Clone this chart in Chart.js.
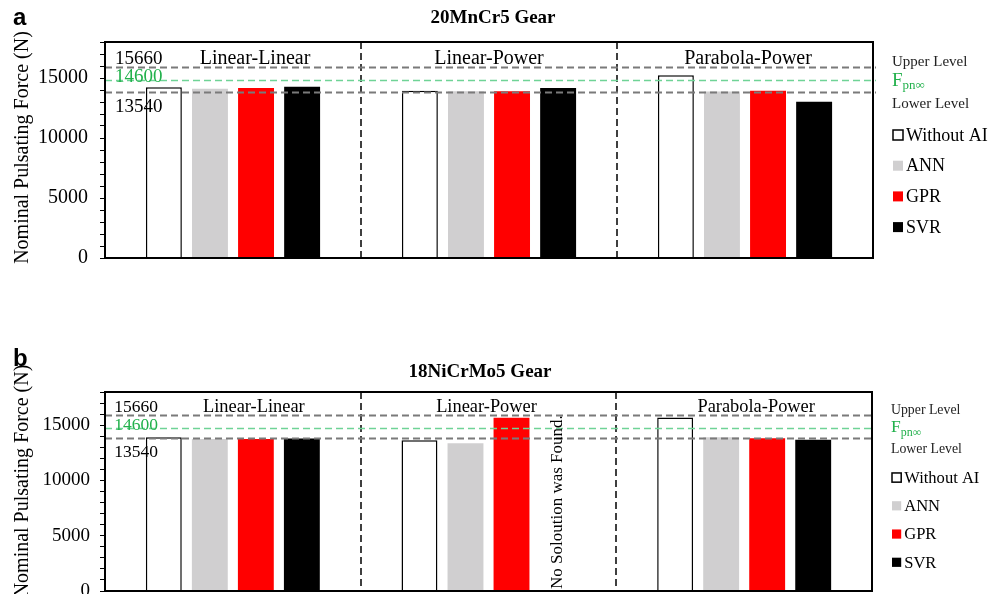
<!DOCTYPE html>
<html>
<head>
<meta charset="utf-8">
<script src="https://cdn.jsdelivr.net/npm/chart.js@4.4.0/dist/chart.umd.min.js"></script>
<style>
  html, body { margin: 0; padding: 0; background: #fff; }
  #wrap { position: relative; width: 997px; height: 594px; overflow: hidden; }
  .panel { position: absolute; left: 0; width: 997px; }
</style>
</head>
<body>
<div id="wrap">
  <div class="panel" style="top:0;height:300px"><canvas id="gearA"></canvas></div>
  <div class="panel" style="top:300px;height:294px"><canvas id="gearB"></canvas></div>
</div>
<script>
// categories and series
const methods = ['Linear-Linear', 'Linear-Power', 'Parabola-Power'];
const seriesNames = ['Without AI', 'ANN', 'GPR', 'SVR'];
const seriesColors = ['#ffffff', '#d0cfd0', '#ff0000', '#000000'];

// y axis
const yMax = 18000;
const yStep = 1000;
const yLabelStep = 5000;

// reference levels (label text, and where the dashed line sits in the figure)
const levelLabels = ['15660', '14600', '13540'];
const levelNames = ['Upper Level', 'F', 'Lower Level'];

// (a) 20MnCr5 Gear
const withoutAI_20MnCr5 = [14220, 13940, 15220];
const ann_20MnCr5 = [14100, 13890, 13880];
const gpr_20MnCr5 = [14160, 13890, 13940];
const svr_20MnCr5 = [14270, 14160, 13020];
const levels_20MnCr5 = [15950, 14800, 13800];

// (b) 18NiCrMo5 Gear
const withoutAI_18NiCrMo5 = [13910, 13640, 15700];
const ann_18NiCrMo5 = [13760, 13370, 13910];
const gpr_18NiCrMo5 = [13760, 15670, 13820];
const svr_18NiCrMo5 = [13790, null, 13670];
const levels_18NiCrMo5 = [15910, 14730, 13820];

const SERIF = '"Liberation Serif", "Times New Roman", serif';
const SANS = '"Liberation Sans", Arial, sans-serif';

function panelPlugin(p) {
  return {
    id: 'panelDeco',
    afterDatasetsDraw(chart) {
      const { ctx, chartArea: a, scales: { x, y } } = chart;
      const k = p.k;
      ctx.save();

      // dashed dividers between the methods
      ctx.strokeStyle = '#000';
      ctx.lineWidth = 1.5;
      ctx.setLineDash([7, 4]);
      for (let i = 0; i < methods.length - 1; i++) {
        const xb = Math.round((x.getPixelForValue(i) + x.getPixelForValue(i + 1)) / 2);
        ctx.beginPath();
        ctx.moveTo(xb, a.top);
        ctx.lineTo(xb, a.bottom);
        ctx.stroke();
      }

      // level lines
      p.levels.forEach((v, i) => {
        const yy = Math.round(y.getPixelForValue(v)) + 0.5;
        ctx.strokeStyle = i === 1 ? '#6fd396' : '#7a7a7a';
        ctx.lineWidth = i === 1 ? 1.5 : 2;
        ctx.setLineDash([7, 4]);
        ctx.beginPath();
        ctx.moveTo(a.left, yy);
        ctx.lineTo(a.right + 3, yy);
        ctx.stroke();
      });
      ctx.setLineDash([]);

      // frame
      ctx.strokeStyle = '#000';
      ctx.lineWidth = 2;
      ctx.strokeRect(a.left, a.top, a.right - a.left, a.bottom - a.top);

      // level values inside the plot
      const yU = y.getPixelForValue(p.levels[0]);
      const yG = y.getPixelForValue(p.levels[1]);
      const yL = y.getPixelForValue(p.levels[2]);
      ctx.textAlign = 'left';
      ctx.textBaseline = 'alphabetic';
      ctx.font = (19 * k) + 'px ' + SERIF;
      ctx.fillStyle = '#000';
      ctx.fillText(levelLabels[0], a.left + 10 * k, yU - 3);
      ctx.fillStyle = '#22b14c';
      ctx.fillText(levelLabels[1], a.left + 10 * k, yG + 2);
      ctx.fillStyle = '#000';
      ctx.fillText(levelLabels[2], a.left + 10 * k, yL + 20 * k);

      // method names
      ctx.textAlign = 'center';
      ctx.font = (20 * k) + 'px ' + SERIF;
      methods.forEach((m, i) => {
        ctx.fillText(m, x.getPixelForValue(i) + p.nameShift[i], yU - 3);
      });

      // no solution note
      if (p.note) {
        const m1 = chart.getDatasetMeta(1).data[p.note.index];
        const m2 = chart.getDatasetMeta(2).data[p.note.index];
        const xn = m2.x + (m2.x - m1.x);
        ctx.save();
        ctx.translate(xn, a.bottom - 2);
        ctx.rotate(-Math.PI / 2);
        ctx.textAlign = 'left';
        ctx.textBaseline = 'middle';
        ctx.font = '17px ' + SERIF;
        ctx.fillText(p.note.text, 0, 0);
        ctx.restore();
      }

      // y axis title
      ctx.save();
      ctx.translate(22.5, p.axisTitleY);
      ctx.rotate(-Math.PI / 2);
      ctx.textAlign = 'center';
      ctx.textBaseline = 'middle';
      ctx.font = '20px ' + SERIF;
      ctx.fillStyle = '#000';
      ctx.fillText('Nominal Pulsating Force (N)', 0, 0);
      ctx.restore();

      // panel title and letter
      ctx.textAlign = 'center';
      ctx.textBaseline = 'middle';
      ctx.font = 'bold ' + p.titleSize + 'px ' + SERIF;
      ctx.fillText(p.title, p.titleX, p.titleY);
      ctx.textAlign = 'left';
      ctx.textBaseline = 'alphabetic';
      ctx.font = 'bold 24px ' + SANS;
      ctx.fillText(p.letter, 13, p.letterY);

      // legend on the right
      const lx = a.right + 19;
      ctx.textBaseline = 'middle';
      ctx.font = (15 * k) + 'px ' + SERIF;
      ctx.fillStyle = '#222';
      ctx.fillText(levelNames[0], lx, a.top + 20 * k);
      ctx.fillText(levelNames[2], lx, a.top + 62 * k);
      ctx.fillStyle = '#22b14c';
      ctx.font = (19 * k) + 'px ' + SERIF;
      ctx.fillText(levelNames[1], lx, a.top + 39 * k);
      const fw = ctx.measureText(levelNames[1]).width;
      ctx.font = (13 * k) + 'px ' + SERIF;
      ctx.fillText('pn\u221E', lx + fw, a.top + 44 * k);

      ctx.font = (18 * k) + 'px ' + SERIF;
      seriesNames.forEach((s, i) => {
        const yy = a.top + (93 + i * 30.7) * k;
        const bs = 10 * k;
        ctx.fillStyle = seriesColors[i];
        ctx.fillRect(lx + 1, yy - bs / 2, bs, bs);
        if (i === 0) {
          ctx.strokeStyle = '#000';
          ctx.lineWidth = 1.5;
          ctx.strokeRect(lx + 1, yy - bs / 2, bs, bs);
        }
        ctx.fillStyle = '#000';
        ctx.fillText(s, lx + bs + 4, yy + 1);
      });

      ctx.restore();
    }
  };
}

function makeChart(id, p) {
  const series = [p.withoutAI, p.ann, p.gpr, p.svr];
  return new Chart(document.getElementById(id), {
    type: 'bar',
    data: {
      labels: methods,
      datasets: series.map((d, i) => ({
        label: seriesNames[i],
        data: d,
        backgroundColor: seriesColors[i],
        borderColor: '#000',
        borderWidth: i === 0 ? 1.5 : 0
      }))
    },
    options: {
      responsive: true,
      maintainAspectRatio: false,
      animation: false,
      layout: { padding: p.padding },
      datasets: { bar: { categoryPercentage: 0.72, barPercentage: 0.78 } },
      plugins: {
        legend: { display: false },
        title: { display: false },
        tooltip: { enabled: false }
      },
      scales: {
        x: {
          ticks: { display: false },
          grid: { display: false },
          border: { display: false },
          afterFit: s => { s.height = 0; s.paddingLeft = 0; s.paddingRight = 0; }
        },
        y: {
          min: 0,
          max: yMax,
          ticks: {
            stepSize: yStep,
            autoSkip: false,
            padding: p.tickPad,
            color: '#000',
            font: { family: SERIF, size: p.tickSize },
            callback: v => (v % yLabelStep === 0 ? String(v) : '')
          },
          grid: { drawOnChartArea: false, drawTicks: true, tickLength: 5, color: '#000', lineWidth: 1 },
          border: { display: true, color: '#000', width: 2 },
          afterFit: s => { s.width = 105; s.paddingTop = 0; s.paddingBottom = 0; }
        }
      }
    },
    plugins: [panelPlugin(p)]
  });
}

makeChart('gearA', {
  withoutAI: withoutAI_20MnCr5, ann: ann_20MnCr5, gpr: gpr_20MnCr5, svr: svr_20MnCr5,
  levels: levels_20MnCr5,
  k: 1,
  padding: { left: 0, top: 42, right: 124, bottom: 42 },
  tickPad: 12, tickSize: 20,
  nameShift: [22, 0, 3],
  axisTitleY: 147.5,
  title: '20MnCr5 Gear', titleSize: 19, titleX: 493, titleY: 18,
  letter: 'a', letterY: 25
});

makeChart('gearB', {
  withoutAI: withoutAI_18NiCrMo5, ann: ann_18NiCrMo5, gpr: gpr_18NiCrMo5, svr: svr_18NiCrMo5,
  levels: levels_18NiCrMo5,
  k: 0.92,
  padding: { left: 0, top: 92, right: 125, bottom: 3 },
  tickPad: 10, tickSize: 19,
  nameShift: [21, -2, 12],
  axisTitleY: 181,
  title: '18NiCrMo5 Gear', titleSize: 19, titleX: 480, titleY: 72,
  letter: 'b', letterY: 66,
  note: { index: 1, text: 'No Soloution was Found.' }
});
</script>
</body>
</html>
